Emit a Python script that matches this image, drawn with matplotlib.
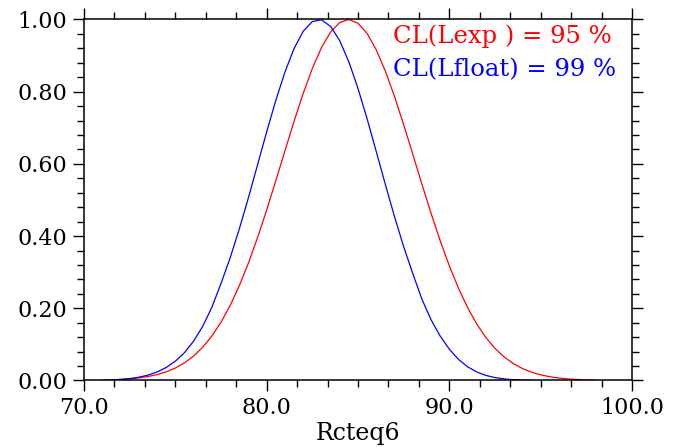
import matplotlib
matplotlib.use("Agg")
import matplotlib.pyplot as plt
from matplotlib.ticker import MultipleLocator, FormatStrFormatter

# Values (step 0.5 in Rcteq6)
x_exp = [71.0, 71.5, 72.0, 72.5, 73.0, 73.5, 74.0, 74.5, 75.0, 75.5,
         76.0, 76.5, 77.0, 77.5, 78.0, 78.5, 79.0, 79.5, 80.0, 80.5,
         81.0, 81.5, 82.0, 82.5, 83.0, 83.5, 84.0, 84.5, 85.0, 85.5,
         86.0, 86.5, 87.0, 87.5, 88.0, 88.5, 89.0, 89.5, 90.0, 90.5,
         91.0, 91.5, 92.0, 92.5, 93.0, 93.5, 94.0, 94.5, 95.0, 95.5,
         96.0, 96.5, 97.0, 97.5, 98.0]
cl_exp = [0.0011, 0.0018, 0.0029, 0.0046, 0.0072, 0.0109, 0.0163, 0.0240, 0.0345, 0.0488,
          0.0677, 0.0922, 0.1232, 0.1615, 0.2078, 0.2624, 0.3253, 0.3957, 0.4724, 0.5535,
          0.6364, 0.7182, 0.7953, 0.8644, 0.9221, 0.9653, 0.9917, 1.0000, 0.9895, 0.9610,
          0.9159, 0.8567, 0.7864, 0.7085, 0.6265, 0.5436, 0.4629, 0.3869, 0.3174, 0.2555,
          0.2018, 0.1565, 0.1191, 0.0889, 0.0652, 0.0469, 0.0331, 0.0229, 0.0156, 0.0104,
          0.0068, 0.0044, 0.0028, 0.0017, 0.0010]

x_float = [71.5, 72.0, 72.5, 73.0, 73.5, 74.0, 74.5, 75.0, 75.5, 76.0,
           76.5, 77.0, 77.5, 78.0, 78.5, 79.0, 79.5, 80.0, 80.5, 81.0,
           81.5, 82.0, 82.5, 83.0, 83.5, 84.0, 84.5, 85.0, 85.5, 86.0,
           86.5, 87.0, 87.5, 88.0, 88.5, 89.0, 89.5, 90.0, 90.5, 91.0,
           91.5, 92.0, 92.5, 93.0, 93.5, 94.0, 94.5]
cl_float = [0.0016, 0.0030, 0.0053, 0.0090, 0.0148, 0.0235, 0.0360, 0.0535, 0.0770, 0.1090,
            0.1500, 0.2030, 0.2687, 0.3396, 0.4195, 0.5063, 0.5974, 0.6887, 0.7760, 0.8546,
            0.9197, 0.9674, 0.9944, 0.9990, 0.9808, 0.9411, 0.8825, 0.8088, 0.7244, 0.6341,
            0.5424, 0.4535, 0.3705, 0.2959, 0.2250, 0.1680, 0.1230, 0.0866, 0.0585, 0.0379,
            0.0236, 0.0141, 0.0081, 0.0044, 0.0023, 0.0012, 0.0006]

labels = ["CL(Lexp ) = 95 %", "CL(Lfloat) = 99 %"]
colors = ["red", "blue"]

font = "DejaVu Serif"

fig = plt.figure(figsize=(6.82, 4.47), dpi=100)
ax = fig.add_axes([0.1232, 0.1488, 0.8035, 0.8076])

ax.plot(x_exp, cl_exp, color=colors[0], lw=0.9)
ax.plot(x_float, cl_float, color=colors[1], lw=0.9)

ax.set_xlim(70, 100)
ax.set_ylim(0, 1)

ax.xaxis.set_major_locator(MultipleLocator(10))
ax.xaxis.set_minor_locator(MultipleLocator(10 / 6))
ax.yaxis.set_major_locator(MultipleLocator(0.2))
ax.yaxis.set_minor_locator(MultipleLocator(0.04))
ax.xaxis.set_major_formatter(FormatStrFormatter("%.1f"))
ax.yaxis.set_major_formatter(FormatStrFormatter("%.2f"))

ax.tick_params(which="both", direction="out", top=True, right=True, width=1.0)
ax.tick_params(which="major", length=8, labelsize=16, pad=4)
ax.tick_params(which="minor", length=5)
for lab in ax.get_xticklabels() + ax.get_yticklabels():
    lab.set_family(font)
for sp in ax.spines.values():
    sp.set_linewidth(1.1)

ax.set_xlabel("Rcteq6", family=font, fontsize=17, labelpad=2)

ax.text(0.564, 0.954, labels[0], color=colors[0], family=font, fontsize=17.5,
        transform=ax.transAxes, ha="left", va="center")
ax.text(0.564, 0.860, labels[1], color=colors[1], family=font, fontsize=17.5,
        transform=ax.transAxes, ha="left", va="center")

fig.savefig("out.png", dpi=100)
